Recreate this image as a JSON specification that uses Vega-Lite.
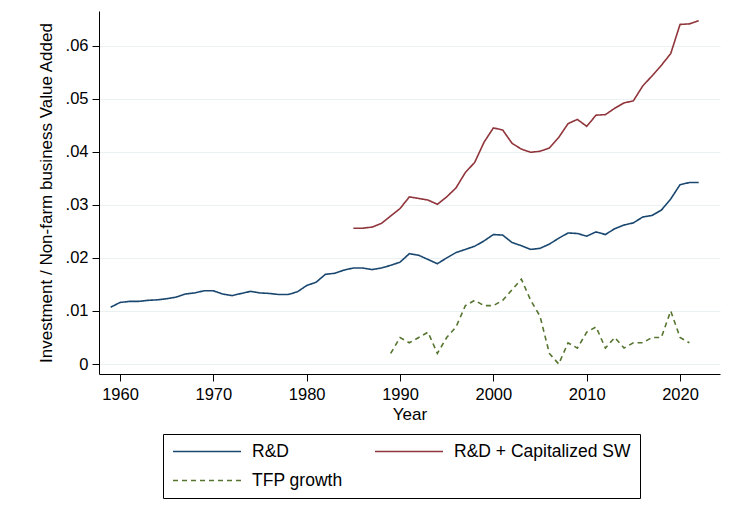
{
  "$schema": "https://vega.github.io/schema/vega-lite/v6.json",
  "width": 621,
  "height": 363,
  "autosize": {"type": "none"},
  "padding": {"left": 99, "top": 11, "right": 26, "bottom": 134},
  "background": "white",
  "config": {
    "view": {"stroke": null},
    "font": "Liberation Sans",
    "axis": {
      "labelFont": "Liberation Sans",
      "labelFontSize": 16.5,
      "labelColor": "black",
      "titleFont": "Liberation Sans",
      "titleFontSize": 17,
      "titleFontWeight": "normal",
      "titleColor": "black",
      "domainColor": "black",
      "domainWidth": 1,
      "tickColor": "black",
      "tickSize": 7,
      "tickWidth": 1
    },
    "legend": {
      "labelFont": "Liberation Sans",
      "labelFontSize": 17.5,
      "labelColor": "black",
      "labelLimit": 400
    }
  },
  "data": {
    "values": [
      {"year": 1959, "series": "R&D", "value": 0.0107},
      {"year": 1960, "series": "R&D", "value": 0.0116},
      {"year": 1961, "series": "R&D", "value": 0.0118},
      {"year": 1962, "series": "R&D", "value": 0.0118},
      {"year": 1963, "series": "R&D", "value": 0.0120},
      {"year": 1964, "series": "R&D", "value": 0.0121},
      {"year": 1965, "series": "R&D", "value": 0.0123},
      {"year": 1966, "series": "R&D", "value": 0.0126},
      {"year": 1967, "series": "R&D", "value": 0.0132},
      {"year": 1968, "series": "R&D", "value": 0.0134},
      {"year": 1969, "series": "R&D", "value": 0.0138},
      {"year": 1970, "series": "R&D", "value": 0.0138},
      {"year": 1971, "series": "R&D", "value": 0.0132},
      {"year": 1972, "series": "R&D", "value": 0.0129},
      {"year": 1973, "series": "R&D", "value": 0.0133},
      {"year": 1974, "series": "R&D", "value": 0.0137},
      {"year": 1975, "series": "R&D", "value": 0.0134},
      {"year": 1976, "series": "R&D", "value": 0.0133},
      {"year": 1977, "series": "R&D", "value": 0.0131},
      {"year": 1978, "series": "R&D", "value": 0.0131},
      {"year": 1979, "series": "R&D", "value": 0.0136},
      {"year": 1980, "series": "R&D", "value": 0.0148},
      {"year": 1981, "series": "R&D", "value": 0.0154},
      {"year": 1982, "series": "R&D", "value": 0.0169},
      {"year": 1983, "series": "R&D", "value": 0.0171},
      {"year": 1984, "series": "R&D", "value": 0.0177},
      {"year": 1985, "series": "R&D", "value": 0.0181},
      {"year": 1986, "series": "R&D", "value": 0.0181},
      {"year": 1987, "series": "R&D", "value": 0.0178},
      {"year": 1988, "series": "R&D", "value": 0.0181},
      {"year": 1989, "series": "R&D", "value": 0.0186},
      {"year": 1990, "series": "R&D", "value": 0.0192},
      {"year": 1991, "series": "R&D", "value": 0.0208},
      {"year": 1992, "series": "R&D", "value": 0.0205},
      {"year": 1993, "series": "R&D", "value": 0.0197},
      {"year": 1994, "series": "R&D", "value": 0.0189},
      {"year": 1995, "series": "R&D", "value": 0.0200},
      {"year": 1996, "series": "R&D", "value": 0.0210},
      {"year": 1997, "series": "R&D", "value": 0.0216},
      {"year": 1998, "series": "R&D", "value": 0.0222},
      {"year": 1999, "series": "R&D", "value": 0.0232},
      {"year": 2000, "series": "R&D", "value": 0.0244},
      {"year": 2001, "series": "R&D", "value": 0.0243},
      {"year": 2002, "series": "R&D", "value": 0.0229},
      {"year": 2003, "series": "R&D", "value": 0.0223},
      {"year": 2004, "series": "R&D", "value": 0.0216},
      {"year": 2005, "series": "R&D", "value": 0.0218},
      {"year": 2006, "series": "R&D", "value": 0.0226},
      {"year": 2007, "series": "R&D", "value": 0.0237},
      {"year": 2008, "series": "R&D", "value": 0.0247},
      {"year": 2009, "series": "R&D", "value": 0.0246},
      {"year": 2010, "series": "R&D", "value": 0.0241},
      {"year": 2011, "series": "R&D", "value": 0.0249},
      {"year": 2012, "series": "R&D", "value": 0.0244},
      {"year": 2013, "series": "R&D", "value": 0.0255},
      {"year": 2014, "series": "R&D", "value": 0.0262},
      {"year": 2015, "series": "R&D", "value": 0.0266},
      {"year": 2016, "series": "R&D", "value": 0.0277},
      {"year": 2017, "series": "R&D", "value": 0.0280},
      {"year": 2018, "series": "R&D", "value": 0.0290},
      {"year": 2019, "series": "R&D", "value": 0.0311},
      {"year": 2020, "series": "R&D", "value": 0.0338},
      {"year": 2021, "series": "R&D", "value": 0.0342},
      {"year": 2022, "series": "R&D", "value": 0.0342},
      {"year": 1985, "series": "R&D + Capitalized SW", "value": 0.0256},
      {"year": 1986, "series": "R&D + Capitalized SW", "value": 0.0256},
      {"year": 1987, "series": "R&D + Capitalized SW", "value": 0.0258},
      {"year": 1988, "series": "R&D + Capitalized SW", "value": 0.0265},
      {"year": 1989, "series": "R&D + Capitalized SW", "value": 0.0279},
      {"year": 1990, "series": "R&D + Capitalized SW", "value": 0.0293},
      {"year": 1991, "series": "R&D + Capitalized SW", "value": 0.0315},
      {"year": 1992, "series": "R&D + Capitalized SW", "value": 0.0312},
      {"year": 1993, "series": "R&D + Capitalized SW", "value": 0.0309},
      {"year": 1994, "series": "R&D + Capitalized SW", "value": 0.0301},
      {"year": 1995, "series": "R&D + Capitalized SW", "value": 0.0315},
      {"year": 1996, "series": "R&D + Capitalized SW", "value": 0.0332},
      {"year": 1997, "series": "R&D + Capitalized SW", "value": 0.0361},
      {"year": 1998, "series": "R&D + Capitalized SW", "value": 0.0380},
      {"year": 1999, "series": "R&D + Capitalized SW", "value": 0.0418},
      {"year": 2000, "series": "R&D + Capitalized SW", "value": 0.0445},
      {"year": 2001, "series": "R&D + Capitalized SW", "value": 0.0441},
      {"year": 2002, "series": "R&D + Capitalized SW", "value": 0.0416},
      {"year": 2003, "series": "R&D + Capitalized SW", "value": 0.0405},
      {"year": 2004, "series": "R&D + Capitalized SW", "value": 0.0399},
      {"year": 2005, "series": "R&D + Capitalized SW", "value": 0.0401},
      {"year": 2006, "series": "R&D + Capitalized SW", "value": 0.0407},
      {"year": 2007, "series": "R&D + Capitalized SW", "value": 0.0427},
      {"year": 2008, "series": "R&D + Capitalized SW", "value": 0.0453},
      {"year": 2009, "series": "R&D + Capitalized SW", "value": 0.0461},
      {"year": 2010, "series": "R&D + Capitalized SW", "value": 0.0448},
      {"year": 2011, "series": "R&D + Capitalized SW", "value": 0.0469},
      {"year": 2012, "series": "R&D + Capitalized SW", "value": 0.0470},
      {"year": 2013, "series": "R&D + Capitalized SW", "value": 0.0482},
      {"year": 2014, "series": "R&D + Capitalized SW", "value": 0.0492},
      {"year": 2015, "series": "R&D + Capitalized SW", "value": 0.0496},
      {"year": 2016, "series": "R&D + Capitalized SW", "value": 0.0524},
      {"year": 2017, "series": "R&D + Capitalized SW", "value": 0.0543},
      {"year": 2018, "series": "R&D + Capitalized SW", "value": 0.0563},
      {"year": 2019, "series": "R&D + Capitalized SW", "value": 0.0585},
      {"year": 2020, "series": "R&D + Capitalized SW", "value": 0.0640},
      {"year": 2021, "series": "R&D + Capitalized SW", "value": 0.0641},
      {"year": 2022, "series": "R&D + Capitalized SW", "value": 0.0647},
      {"year": 1989, "series": "TFP growth", "value": 0.002},
      {"year": 1990, "series": "TFP growth", "value": 0.005},
      {"year": 1991, "series": "TFP growth", "value": 0.004},
      {"year": 1992, "series": "TFP growth", "value": 0.005},
      {"year": 1993, "series": "TFP growth", "value": 0.006},
      {"year": 1994, "series": "TFP growth", "value": 0.002},
      {"year": 1995, "series": "TFP growth", "value": 0.005},
      {"year": 1996, "series": "TFP growth", "value": 0.007},
      {"year": 1997, "series": "TFP growth", "value": 0.011},
      {"year": 1998, "series": "TFP growth", "value": 0.012},
      {"year": 1999, "series": "TFP growth", "value": 0.011},
      {"year": 2000, "series": "TFP growth", "value": 0.011},
      {"year": 2001, "series": "TFP growth", "value": 0.012},
      {"year": 2002, "series": "TFP growth", "value": 0.014},
      {"year": 2003, "series": "TFP growth", "value": 0.016},
      {"year": 2004, "series": "TFP growth", "value": 0.012},
      {"year": 2005, "series": "TFP growth", "value": 0.009},
      {"year": 2006, "series": "TFP growth", "value": 0.002},
      {"year": 2007, "series": "TFP growth", "value": 0.0},
      {"year": 2008, "series": "TFP growth", "value": 0.004},
      {"year": 2009, "series": "TFP growth", "value": 0.003},
      {"year": 2010, "series": "TFP growth", "value": 0.006},
      {"year": 2011, "series": "TFP growth", "value": 0.007},
      {"year": 2012, "series": "TFP growth", "value": 0.003},
      {"year": 2013, "series": "TFP growth", "value": 0.005},
      {"year": 2014, "series": "TFP growth", "value": 0.003},
      {"year": 2015, "series": "TFP growth", "value": 0.004},
      {"year": 2016, "series": "TFP growth", "value": 0.004},
      {"year": 2017, "series": "TFP growth", "value": 0.005},
      {"year": 2018, "series": "TFP growth", "value": 0.005},
      {"year": 2019, "series": "TFP growth", "value": 0.010},
      {"year": 2020, "series": "TFP growth", "value": 0.005},
      {"year": 2021, "series": "TFP growth", "value": 0.004}
    ]
  },
  "mark": {"type": "line", "strokeWidth": 1.6, "clip": true},
  "encoding": {
    "x": {
      "field": "year",
      "type": "quantitative",
      "scale": {"domain": [1957.75, 2024.28], "nice": false, "zero": false},
      "axis": {
        "values": [1960, 1970, 1980, 1990, 2000, 2010, 2020],
        "format": "d",
        "grid": false,
        "title": "Year",
        "labelPadding": 5,
        "titlePadding": 4
      }
    },
    "y": {
      "field": "value",
      "type": "quantitative",
      "scale": {"domain": [-0.00188, 0.06653], "nice": false, "zero": false},
      "axis": {
        "values": [0, 0.01, 0.02, 0.03, 0.04, 0.05, 0.06],
        "labelExpr": "datum.value == 0 ? '0' : replace(format(datum.value, '.2f'), '0.', '.')",
        "grid": true,
        "gridColor": "#eaf1f2",
        "gridWidth": 1.2,
        "title": "Investment / Non-farm business Value Added",
        "labelPadding": 4,
        "titlePadding": 10
      }
    },
    "color": {
      "field": "series",
      "type": "nominal",
      "scale": {
        "domain": ["R&D", "R&D + Capitalized SW", "TFP growth"],
        "range": ["#1a476f", "#90353b", "#55752f"]
      },
      "legend": {
        "title": null,
        "orient": "none",
        "legendX": 64,
        "legendY": 423,
        "direction": "horizontal",
        "columns": 2,
        "symbolType": "stroke",
        "symbolSize": 4624,
        "symbolStrokeWidth": 1.6,
        "clipHeight": 17,
        "rowPadding": 11,
        "columnPadding": 31,
        "labelOffset": 10,
        "labelLimit": 400,
        "padding": 9,
        "strokeColor": "black",
        "fillColor": "white"
      }
    },
    "strokeDash": {
      "field": "series",
      "type": "nominal",
      "scale": {
        "domain": ["R&D", "R&D + Capitalized SW", "TFP growth"],
        "range": [[1, 0], [1, 0], [5, 4]]
      },
      "legend": {
        "title": null,
        "orient": "none",
        "legendX": 64,
        "legendY": 423,
        "direction": "horizontal",
        "columns": 2,
        "symbolType": "stroke",
        "symbolSize": 4624,
        "symbolStrokeWidth": 1.6,
        "clipHeight": 17,
        "rowPadding": 11,
        "columnPadding": 31,
        "labelOffset": 10,
        "labelLimit": 400,
        "padding": 9,
        "strokeColor": "black",
        "fillColor": "white"
      }
    }
  }
}
